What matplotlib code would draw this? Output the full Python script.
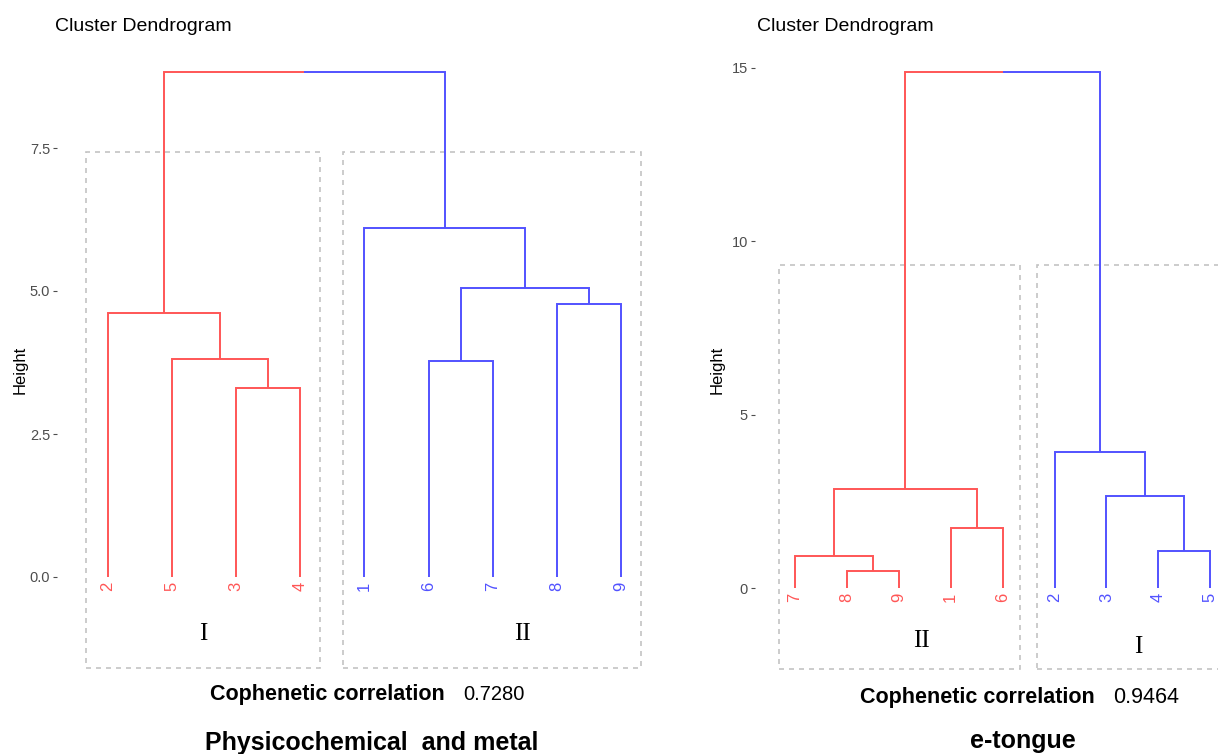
import matplotlib
matplotlib.use("Agg")
import matplotlib.pyplot as plt
from matplotlib.patches import Rectangle

# Physicochemical and metal dendrogram
phys_labels   = ["2", "5", "3", "4", "1", "6", "7", "8", "9"]
phys_cluster  = [0, 0, 0, 0, 1, 1, 1, 1, 1]
phys_merge_a  = ["3", "5",  "2",  "6", "8", "m3", "1",  "m2"]
phys_merge_b  = ["4", "m0", "m1", "7", "9", "m4", "m5", "m6"]
phys_heights  = [3.30, 3.81, 4.62, 3.78, 4.77, 5.05, 6.10, 8.83]
phys_yticks   = [0.0, 2.5, 5.0, 7.5]
phys_ticklab  = ["0.0", "2.5", "5.0", "7.5"]
phys_groups   = ["I", "II"]
phys_coph     = "0.7280"

# e-tongue dendrogram
tongue_labels  = ["7", "8", "9", "1", "6", "2", "3", "4", "5"]
tongue_cluster = [0, 0, 0, 0, 0, 1, 1, 1, 1]
tongue_merge_a = ["8", "7",  "1", "m1", "4", "3",  "2",  "m3"]
tongue_merge_b = ["9", "m0", "6", "m2", "5", "m4", "m5", "m6"]
tongue_heights = [0.50, 0.91, 1.74, 2.84, 1.07, 2.65, 3.92, 14.87]
tongue_yticks  = [0, 5, 10, 15]
tongue_ticklab = ["0", "5", "10", "15"]
tongue_groups  = ["II", "I"]
tongue_coph    = "0.9464"

COLORS    = ["#FF5656", "#5252FF"]
BOX_GREY  = "#C4C4C4"
TICK_GREY = "#4D4D4D"
W, H = 1218, 754

plt.rcParams["font.family"] = ["Liberation Sans", "DejaVu Sans"]

fig = plt.figure(figsize=(W / 100, H / 100), dpi=100)


def px(x, y):
    return x / W, 1 - y / H


def place(ax, left, right, top, bottom):
    ax.set_position([left / W, 1 - bottom / H, (right - left) / W, (bottom - top) / H])


def draw_dendro(ax, labels, cluster, merge_a, merge_b, heights):
    # node -> (x, height, colour index)
    nodes = {}
    for i, lab in enumerate(labels):
        nodes[lab] = (i + 1, 0.0, cluster[i])
    for k, (a, b, h) in enumerate(zip(merge_a, merge_b, heights)):
        xa, ha, ca = nodes[a]
        xb, hb, cb = nodes[b]
        xm = (xa + xb) / 2
        for xc, hc, cc in [(xa, ha, ca), (xb, hb, cb)]:
            ax.plot([xc, xc, xm], [hc, h, h], color=COLORS[cc], lw=1.4,
                    solid_capstyle="butt", solid_joinstyle="miter")
        nodes["m%d" % k] = (xm, h, ca if ca == cb else -1)
    for i, lab in enumerate(labels):
        ax.annotate(lab, (i + 1, 0), xytext=(0, -3.5), textcoords="offset points",
                    rotation=90, ha="center", va="top", fontsize=12,
                    color=COLORS[cluster[i]])


def style_axis(ax, ticks, ticklab):
    for s in ax.spines.values():
        s.set_visible(False)
    ax.set_xticks([])
    ax.set_yticks(ticks)
    ax.set_yticklabels(ticklab)
    ax.tick_params(axis="y", length=3, width=0.8, color=TICK_GREY,
                   labelcolor=TICK_GREY, labelsize=10.5, pad=2)


def group_box(ax, x0, x1, y0, y1):
    ax.add_patch(Rectangle((x0, y0), x1 - x0, y1 - y0, fill=False, edgecolor=BOX_GREY,
                           lw=1.2, linestyle=(0, (3, 3)), clip_on=False))


# ---- left panel ----
ax1 = fig.add_axes([0, 0, 1, 1])
place(ax1, 57, 680, 50, 700)
ax1.set_xlim(1 + (57 - 108) / 64.1, 1 + (680 - 108) / 64.1)
ax1.set_ylim((577 - 700) / 57.2, (577 - 50) / 57.2)
draw_dendro(ax1, phys_labels, phys_cluster, phys_merge_a, phys_merge_b, phys_heights)
style_axis(ax1, phys_yticks, phys_ticklab)
group_box(ax1, 0.66, 4.31, -1.59, 7.43)
group_box(ax1, 4.67, 9.32, -1.59, 7.43)
ax1.text(2.48, -1.0, phys_groups[0], family="Liberation Serif", fontsize=18,
         ha="center", va="center")
ax1.text(7.46, -1.0, phys_groups[1], family="Liberation Serif", fontsize=18,
         ha="center", va="center")

# ---- right panel ----
ax2 = fig.add_axes([0, 0, 1, 1])
place(ax2, 755, 1218, 50, 700)
ax2.set_xlim(1 + (755 - 795) / 51.9, 1 + (1218 - 795) / 51.9)
ax2.set_ylim((588 - 700) / 34.7, (588 - 50) / 34.7)
draw_dendro(ax2, tongue_labels, tongue_cluster, tongue_merge_a, tongue_merge_b, tongue_heights)
style_axis(ax2, tongue_yticks, tongue_ticklab)
group_box(ax2, 0.69, 5.34, -2.33, 9.31)
group_box(ax2, 5.66, 9.34, -2.33, 9.31)
ax2.text(3.43, -1.53, tongue_groups[0], family="Liberation Serif", fontsize=18,
         ha="center", va="center")
ax2.text(7.61, -1.70, tongue_groups[1], family="Liberation Serif", fontsize=18,
         ha="center", va="center")

# ---- titles and captions ----
fig.text(*px(55, 31), "Cluster Dendrogram", fontsize=14, ha="left", va="baseline")
fig.text(*px(757, 31), "Cluster Dendrogram", fontsize=14, ha="left", va="baseline")
fig.text(*px(20, 370), "Height", fontsize=12, rotation=90, ha="center", va="center")
fig.text(*px(717, 370), "Height", fontsize=12, rotation=90, ha="center", va="center")

fig.text(*px(210, 700), "Cophenetic correlation", fontsize=15.5, fontweight="bold",
         ha="left", va="baseline")
fig.text(*px(463, 700), phys_coph, fontsize=14.5, ha="left", va="baseline")
fig.text(*px(860, 703), "Cophenetic correlation", fontsize=15.5, fontweight="bold",
         ha="left", va="baseline")
fig.text(*px(1113, 703), tongue_coph, fontsize=15.5, ha="left", va="baseline")

fig.text(*px(372, 750), "Physicochemical  and metal", fontsize=18, fontweight="bold",
         ha="center", va="baseline")
fig.text(*px(1023, 748), "e-tongue", fontsize=18, fontweight="bold",
         ha="center", va="baseline")

fig.savefig("out.png", dpi=100)
